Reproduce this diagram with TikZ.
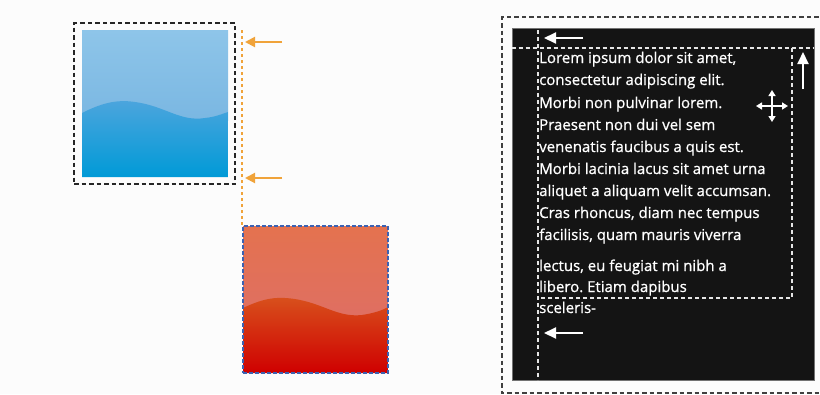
\documentclass[tikz,border=0pt]{standalone}
\usepackage{fontspec}
\setmainfont{Open Sans}
\newfontfamily\loremfont[FakeBold=0.8]{Open Sans}
\frenchspacing
\usetikzlibrary{arrows.meta}
\definecolor{blueTopA}{HTML}{8EC5E9}
\definecolor{blueTopB}{HTML}{7AB7E2}
\definecolor{blueBotA}{HTML}{4DA5DD}
\definecolor{blueBotB}{HTML}{009AD7}
\definecolor{redTopA}{HTML}{E4724F}
\definecolor{redTopB}{HTML}{DF6F62}
\definecolor{redBotA}{HTML}{D8501C}
\definecolor{redBotB}{HTML}{CF0000}
\definecolor{orangeArr}{HTML}{F0A33A}
\definecolor{frameBlue}{HTML}{3C62B2}
\definecolor{panelBlack}{HTML}{141414}
\tikzset{
  blackframe/.style={draw=black!85, line width=2.3pt, dash pattern=on 4.5pt off 3pt},
  orangedots/.style={draw=orangeArr, line width=2pt, dash pattern=on 3pt off 3pt},
  orangearrow/.style={draw=orangeArr, line width=2pt, -{Triangle[width=10pt,length=10pt]}},
  whitearrow/.style={draw=white, line width=2pt, -{Triangle[width=11pt,length=12pt]}},
  whitedash/.style={draw=white!90!black, line width=2.2pt, dash pattern=on 4pt off 3pt},
  greydash/.style={draw=black!75, line width=2.3pt, dash pattern=on 4.5pt off 3pt},
  lorem/.style={anchor=base west, inner sep=0pt, text=white, font=\loremfont\fontsize{15}{16}\selectfont}
}
\begin{document}
\begin{tikzpicture}[x=1pt,y=-1pt]
\useasboundingbox (0,0) rectangle (820,394);
\fill[white!98!gray] (0,0) rectangle (820,394);
% ---------- blue image ----------
\begin{scope}
  \clip (82,30) rectangle (228,177);
  \shade[top color=blueTopA, bottom color=blueTopB] (82,30) rectangle (228,120);
  \shade[top color=blueBotA, bottom color=blueBotB]
    (82,113) .. controls (100,104) and (115,99) .. (135,102)
    .. controls (165,106) and (180,122) .. (205,118)
    .. controls (215,117) and (222,114) .. (228,112) -- (228,177) -- (82,177) -- cycle;
\end{scope}
\node[blackframe, minimum width=161pt, minimum height=161pt, inner sep=0pt] (blueframe) at (154.5,103.5) {};
% orange guide line and arrows
\coordinate (guideTop) at (242,30);
\coordinate (guideBot) at (242,226);
\draw[orangedots] (guideTop) -- (guideBot);
\coordinate (oa1s) at (282,42);
\coordinate (oa1e) at (245,42);
\coordinate (oa2s) at (282,178);
\coordinate (oa2e) at (245,178);
\draw[orangearrow] (oa1s) -- (oa1e);
\draw[orangearrow] (oa2s) -- (oa2e);
% ---------- red image ----------
\begin{scope}
  \clip (243,226) rectangle (388,373);
  \shade[top color=redTopA, bottom color=redTopB] (243,226) rectangle (388,318);
  \shade[top color=redBotA, bottom color=redBotB]
    (243,308) .. controls (258,301) and (270,297) .. (285,298)
    .. controls (320,300) and (335,318) .. (362,315)
    .. controls (375,313) and (383,310) .. (388,307) -- (388,373) -- (243,373) -- cycle;
\end{scope}
\node[draw=frameBlue, line width=1.6pt, dash pattern=on 4pt off 2pt, minimum width=145pt, minimum height=147pt, inner sep=0pt] (redframe) at (315.5,299.5) {};
% ---------- text panel ----------
\draw[greydash] (826,17) -- (502,17) -- (502,393) -- (826,393);
\node[fill=panelBlack, draw=black!55, line width=0.8pt, minimum width=302pt, minimum height=352pt, inner sep=0pt] (panel) at (663,204) {};
\draw[whitedash] (panel.west |- 0,48) -- (panel.east |- 0,48);
\draw[whitedash] (538,30) -- (538,380);
\draw[whitedash] (792,48) -- (792,298) -- (538,298);
\coordinate (wa1s) at (583,38);
\coordinate (wa1e) at (544,38);
\coordinate (wa2s) at (803,89);
\coordinate (wa2e) at (803,52);
\coordinate (wa3s) at (583,333);
\coordinate (wa3e) at (544,333);
\draw[whitearrow] (wa1s) -- (wa1e);
\draw[whitearrow] (wa2s) -- (wa2e);
\draw[whitearrow] (wa3s) -- (wa3e);
% move cross
\coordinate (mc) at (772,106);
\draw[draw=white, line width=1.6pt, {Triangle[width=7pt,length=6pt]}-{Triangle[width=7pt,length=6pt]}] ([xshift=-16pt]mc) -- ([xshift=16pt]mc);
\draw[draw=white, line width=1.6pt, {Triangle[width=7pt,length=6pt]}-{Triangle[width=7pt,length=6pt]}] ([yshift=-16pt]mc) -- ([yshift=16pt]mc);
% text lines
\node[lorem] (l1) at (539,63) {Lorem ipsum dolor sit amet,};
\node[lorem] (l2) at (539,85) {consectetur adipiscing elit.};
\node[lorem] (l3) at (539,108) {Morbi non pulvinar lorem.};
\node[lorem] (l4) at (539,130) {Praesent non dui vel sem};
\node[lorem] (l5) at (539,152) {venenatis faucibus a quis est.};
\node[lorem] (l6) at (539,174) {Morbi lacinia lacus sit amet urna};
\node[lorem] (l7) at (539,196) {aliquet a aliquam velit accumsan.};
\node[lorem] (l8) at (539,218) {Cras rhoncus, diam nec tempus};
\node[lorem] (l9) at (539,240) {facilisis, quam mauris viverra};
\node[lorem] (l10) at (539,271) {lectus, eu feugiat mi nibh a};
\node[lorem] (l11) at (539,292) {libero. Etiam dapibus};
\node[lorem] (l12) at (539,313) {sceleris-};
\end{tikzpicture}
\end{document}
